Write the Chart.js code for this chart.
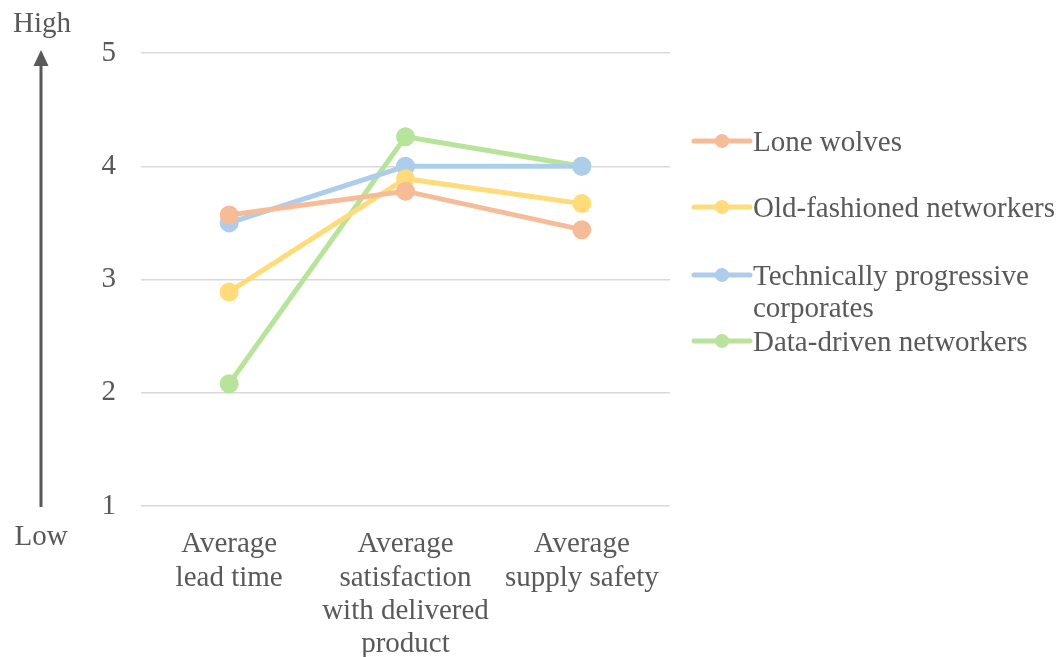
<!DOCTYPE html>
<html>
<head>
<meta charset="utf-8">
<script src="https://cdn.jsdelivr.net/npm/chart.js@4/dist/chart.umd.min.js"></script>
<style>
  html, body { margin: 0; padding: 0; background: #ffffff; }
  #wrap { width: 1062px; height: 657px; position: relative; }
</style>
</head>
<body>
<div id="wrap"><canvas id="chart" width="1062" height="657"></canvas></div>
<script>
// Categories (multi-line axis labels)
const categories = [
  ["Average", "lead time"],
  ["Average", "satisfaction", "with delivered", "product"],
  ["Average", "supply safety"]
];

// Series names (legend text, wrapped lines)
const seriesNames = [
  ["Lone wolves"],
  ["Old-fashioned networkers"],
  ["Technically progressive", "corporates"],
  ["Data-driven networkers"]
];

// Series values, one per category
const loneWolves      = [3.57, 3.78, 3.44];
const oldFashioned    = [2.89, 3.89, 3.67];
const techProgressive = [3.50, 4.00, 4.00];
const dataDriven      = [2.08, 4.26, 4.00];

// Y-axis ticks
const yTicks = [1, 2, 3, 4, 5];
const axisEnds = ["High", "Low"];

const seriesColors = ["#F6BC98", "#FFDB79", "#ADCDEB", "#B7E49A"];
const textColor = "#595959";
const fontFamily = "'Liberation Serif', 'Times New Roman', serif";
const fontSize = 29;

const seriesValues = [loneWolves, oldFashioned, techProgressive, dataDriven];

const datasets = seriesValues.map((vals, i) => ({
  label: seriesNames[i].join(" "),
  data: vals,
  borderColor: seriesColors[i],
  backgroundColor: seriesColors[i],
  pointBackgroundColor: seriesColors[i],
  pointBorderColor: seriesColors[i],
  borderWidth: 5,
  pointRadius: 7,
  pointHoverRadius: 7,
  tension: 0,
  fill: false
}));

// Draws the High/Low arrow on the left and the legend on the right
const decorations = {
  id: "decorations",
  afterDraw(chart) {
    const ctx = chart.ctx;
    const area = chart.chartArea;
    ctx.save();

    // vertical arrow
    const ax = 41;
    ctx.strokeStyle = textColor;
    ctx.fillStyle = textColor;
    ctx.lineWidth = 3;
    ctx.beginPath();
    ctx.moveTo(ax, area.bottom + 1);
    ctx.lineTo(ax, area.top + 10);
    ctx.stroke();
    ctx.beginPath();
    ctx.moveTo(ax, area.top - 3);
    ctx.lineTo(ax - 7.5, area.top + 13);
    ctx.lineTo(ax + 7.5, area.top + 13);
    ctx.closePath();
    ctx.fill();

    ctx.font = fontSize + "px " + fontFamily;
    ctx.textAlign = "center";
    ctx.textBaseline = "middle";
    ctx.fillText(axisEnds[0], 42, 24);
    ctx.fillText(axisEnds[1], 41, 537);

    // legend
    const rowY = [141, 207, 275, 341];
    const lx0 = 694, lx1 = 750, tx = 753, lineH = 32;
    ctx.textAlign = "left";
    seriesNames.forEach((lines, i) => {
      const y = rowY[i];
      ctx.strokeStyle = seriesColors[i];
      ctx.fillStyle = seriesColors[i];
      ctx.lineWidth = 5;
      ctx.lineCap = "round";
      ctx.beginPath();
      ctx.moveTo(lx0, y);
      ctx.lineTo(lx1, y);
      ctx.stroke();
      ctx.beginPath();
      ctx.arc((lx0 + lx1) / 2, y, 7, 0, Math.PI * 2);
      ctx.fill();
      ctx.fillStyle = textColor;
      lines.forEach((t, j) => ctx.fillText(t, tx, y + 2 + j * lineH));
    });
    ctx.restore();
  }
};

new Chart(document.getElementById("chart"), {
  type: "line",
  data: { labels: categories, datasets },
  options: {
    responsive: false,
    animation: false,
    layout: { padding: { left: 0, right: 392, top: 53, bottom: 0 } },
    plugins: { legend: { display: false }, tooltip: { enabled: false } },
    scales: {
      x: {
        offset: true,
        grid: { display: false, drawTicks: false },
        border: { display: false },
        ticks: {
          color: textColor,
          font: { family: fontFamily, size: fontSize, lineHeight: 1.15 },
          padding: 22,
          maxRotation: 0,
          autoSkip: false
        },
        afterFit(scale) { scale.height = 151; }
      },
      y: {
        min: 1,
        max: 5,
        afterBuildTicks(scale) { scale.ticks = yTicks.map(v => ({ value: v })); },
        grid: { color: "#d9d9d9", lineWidth: 1.5, drawTicks: false },
        border: { display: false },
        ticks: {
          color: textColor,
          font: { family: fontFamily, size: fontSize },
          padding: 25
        },
        afterFit(scale) { scale.width = 141; }
      }
    }
  },
  plugins: [decorations]
});
</script>
</body>
</html>
